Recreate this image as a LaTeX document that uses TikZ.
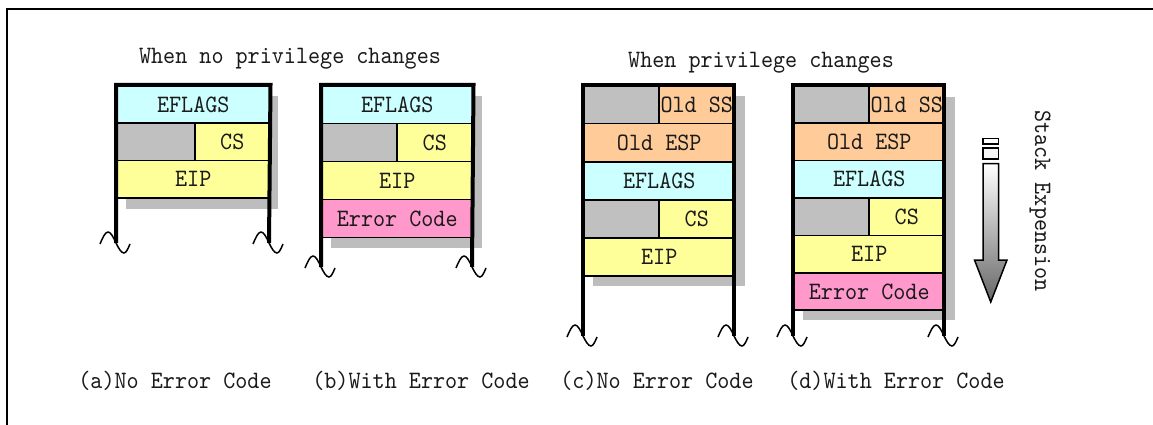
\documentclass[tikz,border=0pt]{standalone}
\usepackage{fontspec}
\newfontfamily\stackfont{lmmono10-regular.otf}[FakeStretch=0.92]
\definecolor{cyanc}{HTML}{CCFFFF}
\definecolor{yelc}{HTML}{FFFF99}
\definecolor{grayc}{HTML}{C0C0C0}
\definecolor{pinkc}{HTML}{FF99CC}
\definecolor{peachc}{HTML}{FFCC99}
\definecolor{shadc}{HTML}{BDBDBD}
\definecolor{inkc}{HTML}{1A1A1A}
\tikzset{
  lbl/.style={font=\stackfont\fontsize{25}{27}\selectfont, text=inkc, inner sep=0pt},
  cell/.style={lbl, draw=black, line width=1.5pt, minimum height=37.5pt, anchor=north west},
  shadowbox/.style={fill=shadc},
  post/.style={line width=4pt, line join=miter},
  frameline/.style={line width=2.5pt},
  wave/.pic={\draw[line width=1.5pt] (-16,1) sin (-8,-11) cos (0,0) sin (8,10) cos (14,1);},
  arrowbox/.style={draw, line width=1.5pt}
}
\begin{document}
\begin{tikzpicture}[x=1pt,y=-1pt]
\useasboundingbox (0,0) rectangle (1153,425);
\draw[frameline] (7,425) -- (7,9) -- (1153,9);

% titles
\node[lbl] (t1) at (290,59) {When no privilege changes};
\node[lbl] (t2) at (761,63) {When privilege changes};

% ---------- (a)
\fill[shadowbox] (126,96) rectangle (278,209);
\begin{scope}[cell/.append style={minimum height=37.4pt}]
\node[cell,fill=cyanc,minimum width=153pt] (aEF) at (116,85) {EFLAGS};
\node[cell,fill=grayc,minimum width=78pt] (aG) at (116,122.4) {};
\node[cell,fill=yelc,minimum width=75pt] (aCS) at (194,122.4) {CS};
\node[cell,fill=yelc,minimum width=153pt] (aEIP) at (116,159.8) {EIP};
\end{scope}
\coordinate (aBL) at (116,243);
\coordinate (aBR) at (269,243);
\draw[post] (aBL) -- (aEF.north west) -- (aEF.north east) -- (aBR);
\pic at (aBL) {wave};
\pic at (aBR) {wave};

% ---------- (b)
\fill[shadowbox] (331,96) rectangle (482,248);
\begin{scope}[cell/.append style={minimum height=37.9pt}]
\node[cell,fill=cyanc,minimum width=151pt] (bEF) at (321,85) {EFLAGS};
\node[cell,fill=grayc,minimum width=75pt] (bG) at (321,122.9) {};
\node[cell,fill=yelc,minimum width=76pt] (bCS) at (396,122.9) {CS};
\node[cell,fill=yelc,minimum width=151pt] (bEIP) at (321,160.8) {EIP};
\node[cell,fill=pinkc,minimum width=151pt] (bERR) at (321,198.7) {Error Code};
\end{scope}
\coordinate (bBL) at (321,267);
\coordinate (bBR) at (472,267);
\draw[post] (bBL) -- (bEF.north west) -- (bEF.north east) -- (bBR);
\pic at (bBL) {wave};
\pic at (bBR) {wave};

% ---------- (c)
\fill[shadowbox] (593,96) rectangle (745,286);
\begin{scope}[cell/.append style={minimum height=38pt}]
\node[cell,fill=grayc,minimum width=75pt] (cG1) at (583,85) {};
\node[cell,fill=peachc,minimum width=76pt] (cSS) at (658,85) {Old SS};
\node[cell,fill=peachc,minimum width=151pt] (cESP) at (583,123) {Old ESP};
\node[cell,fill=cyanc,minimum width=151pt] (cEF) at (583,161) {EFLAGS};
\node[cell,fill=grayc,minimum width=75pt] (cG2) at (583,199) {};
\node[cell,fill=yelc,minimum width=76pt] (cCS) at (658,199) {CS};
\node[cell,fill=yelc,minimum width=151pt] (cEIP) at (583,237) {EIP};
\end{scope}
\coordinate (cTL) at (583,85);
\coordinate (cTR) at (734,85);
\coordinate (cBL) at (583,336);
\coordinate (cBR) at (734,336);
\draw[post] (cBL) -- (cTL) -- (cTR) -- (cBR);
\pic at (cBL) {wave};
\pic at (cBR) {wave};

% ---------- (d)
\fill[shadowbox] (803,97) rectangle (955,320);
\begin{scope}[cell/.append style={minimum height=37.4pt}]
\node[cell,fill=grayc,minimum width=75pt] (dG1) at (793,85) {};
\node[cell,fill=peachc,minimum width=76pt] (dSS) at (868,85) {Old SS};
\node[cell,fill=peachc,minimum width=151pt] (dESP) at (793,122.4) {Old ESP};
\node[cell,fill=cyanc,minimum width=151pt] (dEF) at (793,159.8) {EFLAGS};
\node[cell,fill=grayc,minimum width=75pt] (dG2) at (793,197.2) {};
\node[cell,fill=yelc,minimum width=76pt] (dCS) at (868,197.2) {CS};
\node[cell,fill=yelc,minimum width=151pt] (dEIP) at (793,234.6) {EIP};
\node[cell,fill=pinkc,minimum width=151pt] (dERR) at (793,272) {Error Code};
\end{scope}
\coordinate (dTL) at (793,85);
\coordinate (dTR) at (944,85);
\coordinate (dBL) at (793,336);
\coordinate (dBR) at (944,336);
\draw[post] (dBL) -- (dTL) -- (dTR) -- (dBR);
\pic at (dBL) {wave};
\pic at (dBR) {wave};

% ---------- stack expansion arrow
\draw[arrowbox, fill=white] (983,138.5) rectangle (998.5,144);
\draw[arrowbox, fill=white!97!black] (983,148) rectangle (998.5,159);
\shade[top color=white, bottom color=black!60, draw=black, line width=1.5pt, line join=miter]
  (983,163.5) -- (998.5,163.5) -- (998.5,260) -- (1007,260) -- (990.75,302) -- (974.5,260) -- (983,260) -- cycle;
\node[lbl, rotate=-90] (se) at (1040,201) {Stack Expension};

% ---------- captions
\node[lbl] (ca) at (175,381) {(a)No Error Code};
\node[lbl] (cb) at (421,381) {(b)With Error Code};
\node[lbl] (cc) at (657,381) {(c)No Error Code};
\node[lbl] (cd) at (896,381) {(d)With Error Code};
\end{tikzpicture}
\end{document}
